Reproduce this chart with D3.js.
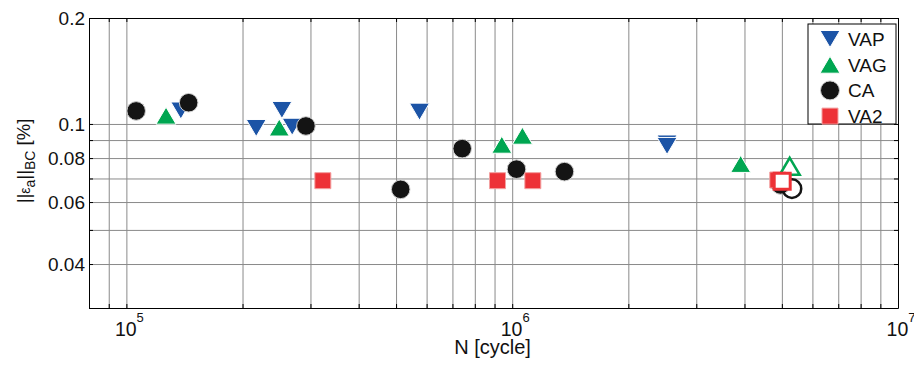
<!DOCTYPE html>
<html>
<head>
<meta charset="utf-8">
<script src="https://cdnjs.cloudflare.com/ajax/libs/d3/7.8.5/d3.min.js"></script>
<style>
  body { margin: 0; background: #fff; }
  text { font-family: "Liberation Sans", Arial, sans-serif; fill: #111; }
</style>
</head>
<body>
<div id="chart"></div>
<script>
// values (N in cycles, value in %)
var seriesNames = ["VAP", "VAG", "CA", "VA2"];

var vapN = [1.384e5, 2.17e5, 2.53e5, 2.69e5, 5.75e5, 2.52e6, 2.52e6];
var vapVal = [0.1092, 0.0974, 0.1096, 0.0982, 0.1084, 0.0880, 0.0866];

var vagN = [1.267e5, 2.49e5, 9.40e5, 1.063e6, 3.91e6];
var vagVal = [0.1056, 0.0977, 0.0873, 0.0926, 0.0770];

var caN = [1.06e5, 1.45e5, 2.92e5, 5.14e5, 7.42e5, 1.026e6, 1.366e6, 4.96e6];
var caVal = [0.1089, 0.1149, 0.0987, 0.0652, 0.0851, 0.0744, 0.0732, 0.0671];

var va2N = [3.23e5, 9.16e5, 1.131e6, 4.88e6];
var va2Val = [0.0690, 0.0690, 0.0690, 0.0693];

// hollow markers
var vagOpenN = [5.24e6], vagOpenVal = [0.0758];
var caOpenN = [5.31e6], caOpenVal = [0.0655];
var va2OpenN = [5.01e6], va2OpenVal = [0.0687];

var xTickValues = [1e5, 1e6, 1e7];
var xTickExp = ["5", "6", "7"];
var yTickValues = [0.04, 0.06, 0.08, 0.1, 0.2];
var yTickLabels = ["0.04", "0.06", "0.08", "0.1", "0.2"];

var W = 914, H = 365;
var mLeft = 89, mRight = 898, mTop = 18, mBottom = 308;

var blue = "#1c54a6", green = "#00a651", black = "#141414", red = "#ed3237";

var svg = d3.select("#chart").append("svg")
  .attr("width", W)
  .attr("height", H);

var x = d3.scaleLog().domain([8e4, 1e7]).range([mLeft, mRight]);
var y = d3.scaleLog().domain([0.03, 0.2]).range([mBottom, mTop]);

// grid
svg.append("g")
  .attr("transform", "translate(0," + mBottom + ")")
  .call(d3.axisBottom(x).tickValues(x.ticks()).tickSize(-(mBottom - mTop)).tickFormat(""))
  .call(function (g) {
    g.select(".domain").remove();
    g.selectAll("line").attr("stroke", "#8a8a8a").attr("stroke-width", 1);
  });
svg.append("g")
  .attr("transform", "translate(" + mLeft + ",0)")
  .call(d3.axisLeft(y).tickValues(y.ticks()).tickSize(-(mRight - mLeft)).tickFormat(""))
  .call(function (g) {
    g.select(".domain").remove();
    g.selectAll("line").attr("stroke", "#8a8a8a").attr("stroke-width", 1);
  });

// inward ticks on all four sides
function tidy(g) {
  g.select(".domain").attr("stroke", "#000");
  g.selectAll(".tick line").attr("stroke", "#000");
}
svg.append("g")
  .attr("transform", "translate(0," + mBottom + ")")
  .call(d3.axisBottom(x).tickValues(x.ticks()).tickSizeInner(-4).tickSizeOuter(0).tickFormat(""))
  .call(tidy);
svg.append("g")
  .attr("transform", "translate(0," + mTop + ")")
  .call(d3.axisTop(x).tickValues(x.ticks()).tickSizeInner(-4).tickSizeOuter(0).tickFormat(""))
  .call(tidy);
svg.append("g")
  .attr("transform", "translate(" + mLeft + ",0)")
  .call(d3.axisLeft(y).tickValues(y.ticks()).tickSizeInner(-4).tickSizeOuter(0)
    .tickPadding(4)
    .tickFormat(function (d) {
      var i = yTickValues.findIndex(function (v) { return Math.abs(v - d) < 1e-9; });
      return i < 0 ? "" : yTickLabels[i];
    }))
  .call(tidy)
  .call(function (g) {
    g.selectAll("text").attr("font-size", 19).attr("font-family", "Liberation Sans, Arial, sans-serif").attr("fill", "#111");
  });
svg.append("g")
  .attr("transform", "translate(" + mRight + ",0)")
  .call(d3.axisRight(y).tickValues(y.ticks()).tickSizeInner(-4).tickSizeOuter(0).tickFormat(""))
  .call(tidy);

// x tick labels 10^n
var xl = svg.append("g").selectAll("text")
  .data(xTickValues)
  .enter().append("text")
  .attr("x", function (d) { return x(d) + 3; })
  .attr("y", 336)
  .attr("text-anchor", "middle")
  .attr("font-size", 19.5);
xl.append("tspan").text("10");
xl.append("tspan")
  .attr("dy", -14)
  .attr("font-size", 13)
  .text(function (d, i) { return xTickExp[i]; });

// axis titles
svg.append("text")
  .attr("x", (mLeft + mRight) / 2 - 1)
  .attr("y", 354)
  .attr("text-anchor", "middle")
  .attr("font-size", 20)
  .text("N [cycle]");

var yt = svg.append("text")
  .attr("transform", "translate(30,161) rotate(-90)")
  .attr("text-anchor", "middle")
  .attr("font-size", 18.5);
yt.append("tspan").text("||");
yt.append("tspan").attr("font-size", 14).text("ε");
yt.append("tspan").attr("font-size", 14).attr("dy", 5).text("a");
yt.append("tspan").attr("dy", -5).text("||");
yt.append("tspan").attr("font-size", 14).attr("dy", 5).text("BC");
yt.append("tspan").attr("dy", -5).text(" [%]");

// marker shapes
var shapes = {
  down: "M-10,-8.5L10,-8.5L0,8.5Z",
  up: "M0,-8.5L10,8.5L-10,8.5Z",
  square: "M-8,-8L8,-8L8,8L-8,8Z"
};

function drawPoints(ns, vals, shape, fill, stroke, sw) {
  var pts = d3.zip(ns, vals);
  var g = svg.append("g");
  if (shape === "circle") {
    g.selectAll("circle")
      .data(pts)
      .enter().append("circle")
      .attr("cx", function (d) { return x(d[0]); })
      .attr("cy", function (d) { return y(d[1]); })
      .attr("r", 9.3)
      .attr("fill", fill)
      .attr("stroke", stroke)
      .attr("stroke-width", sw);
  } else {
    g.selectAll("path")
      .data(pts)
      .enter().append("path")
      .attr("transform", function (d) { return "translate(" + x(d[0]) + "," + y(d[1]) + ")"; })
      .attr("d", shapes[shape])
      .attr("fill", fill)
      .attr("stroke", stroke)
      .attr("stroke-width", sw);
  }
}

drawPoints(vapN, vapVal, "down", blue, "#fff", 1);
drawPoints(vagN, vagVal, "up", green, "#fff", 1);
drawPoints(caN, caVal, "circle", black, "#d0d0d0", 1);
drawPoints(va2N, va2Val, "square", red, "#f3a0a0", 1);

drawPoints(vagOpenN, vagOpenVal, "up", "none", green, 2.5);
drawPoints(caOpenN, caOpenVal, "circle", "none", black, 2.5);
drawPoints(va2OpenN, va2OpenVal, "square", "#fff", red, 3);

// legend
var leg = svg.append("g");
leg.append("rect")
  .attr("x", 808).attr("y", 24)
  .attr("width", 88).attr("height", 100)
  .attr("fill", "#fff")
  .attr("stroke", "#000")
  .attr("stroke-width", 1);

var legShapes = ["down", "up", "circle", "square"];
var legFills = [blue, green, black, red];
var legStrokes = ["#fff", "#fff", "#d0d0d0", "#f3a0a0"];

var item = leg.selectAll("g.item")
  .data(seriesNames)
  .enter().append("g")
  .attr("class", "item")
  .attr("transform", function (d, i) { return "translate(830," + (39 + i * 25.7) + ")"; });

item.each(function (d, i) {
  var s = d3.select(this);
  if (legShapes[i] === "circle") {
    s.append("circle").attr("r", 9.5).attr("fill", legFills[i]).attr("stroke", legStrokes[i]);
  } else {
    s.append("path").attr("d", shapes[legShapes[i]]).attr("fill", legFills[i]).attr("stroke", legStrokes[i]);
  }
});

item.append("text")
  .attr("x", 18)
  .attr("y", 7)
  .attr("font-size", 19)
  .text(function (d) { return d; });
</script>
</body>
</html>
